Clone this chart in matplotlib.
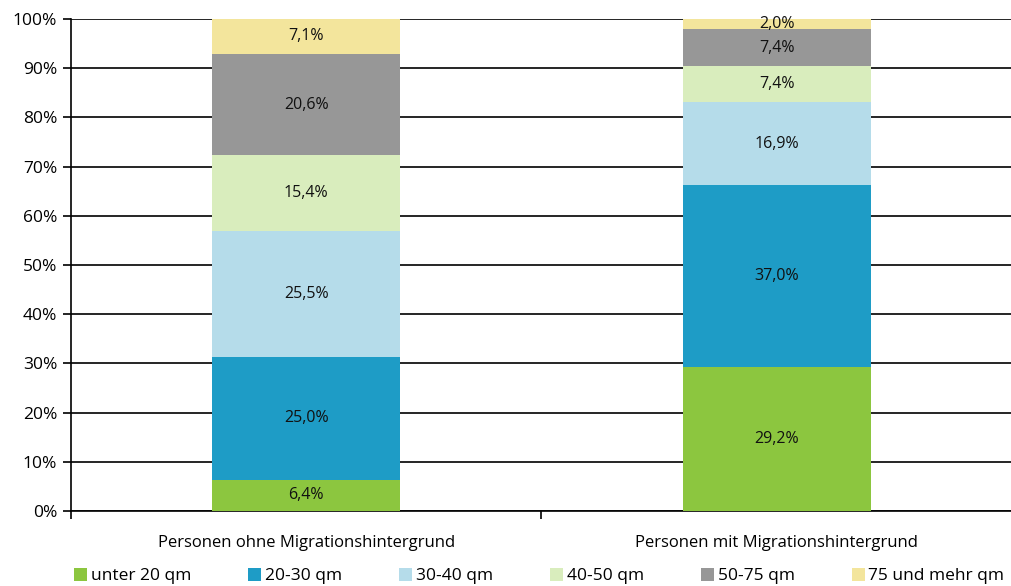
import matplotlib
matplotlib.use("Agg")
import matplotlib.pyplot as plt
from matplotlib.patches import Patch

plt.rcParams['font.family'] = ['Open Sans', 'DejaVu Sans']

categories = ["Personen ohne Migrationshintergrund", "Personen mit Migrationshintergrund"]
series = ["unter 20 qm", "20-30 qm", "30-40 qm", "40-50 qm", "50-75 qm", "75 und mehr qm"]
values = {
    "unter 20 qm": [6.4, 29.2],
    "20-30 qm": [25.0, 37.0],
    "30-40 qm": [25.5, 16.9],
    "40-50 qm": [15.4, 7.4],
    "50-75 qm": [20.6, 7.4],
    "75 und mehr qm": [7.1, 2.0],
}
colors = ["#8cc63f", "#1e9cc6", "#b5dcea", "#d9edbd", "#979797", "#f3e59c"]
yticklabels = ["0%", "10%", "20%", "30%", "40%", "50%", "60%", "70%", "80%", "90%", "100%"]

fig = plt.figure(figsize=(10.12, 5.86), dpi=100)
ax = fig.add_axes([71/1012, 1-511/586, 1-71/1012, (511-19)/586])

x = list(range(len(categories)))
bottom = [0.0]*len(categories)
for s, c in zip(series, colors):
    v = values[s]
    ax.bar(x, v, width=0.4, bottom=bottom, color=c, zorder=3)
    for i in x:
        ax.text(i, bottom[i] + v[i]/2, f"{v[i]:.1f}%".replace(".", ","),
                ha="center", va="center", fontsize=11.5, color="#111111", zorder=4)
    bottom = [b + vv for b, vv in zip(bottom, v)]

ax.set_ylim(0, 100)
ax.set_xlim(-0.5, 1.478)
ax.set_yticks(range(0, 101, 10))
ax.set_yticklabels(yticklabels, fontsize=12.5)
ax.yaxis.grid(True, color="black", linewidth=1.2, zorder=0)
ax.set_xticks([-0.5, 0.5, 1.5])
ax.set_xticklabels([])
ax.tick_params(axis='x', length=6, width=1.2, direction='out')
ax.tick_params(axis='y', length=6, width=1.2, direction='out', pad=4)
for i, cat in enumerate(categories):
    ax.text(i, -6.6, cat, ha="center", va="center", fontsize=12, transform=ax.transData)
for sp in ["top", "right"]:
    ax.spines[sp].set_visible(False)
ax.spines["left"].set_linewidth(1.2)
ax.spines["bottom"].set_linewidth(1.2)

handles = [Patch(facecolor=c, edgecolor='none') for c in colors]
fig.legend(handles, series, loc="center", bbox_to_anchor=(0.533, 0.017), ncol=6,
           frameon=False, fontsize=12.5, handlelength=0.75, handleheight=0.75,
           handletextpad=0.2, columnspacing=3.3, borderaxespad=0)

fig.savefig("out.png", dpi=100)
